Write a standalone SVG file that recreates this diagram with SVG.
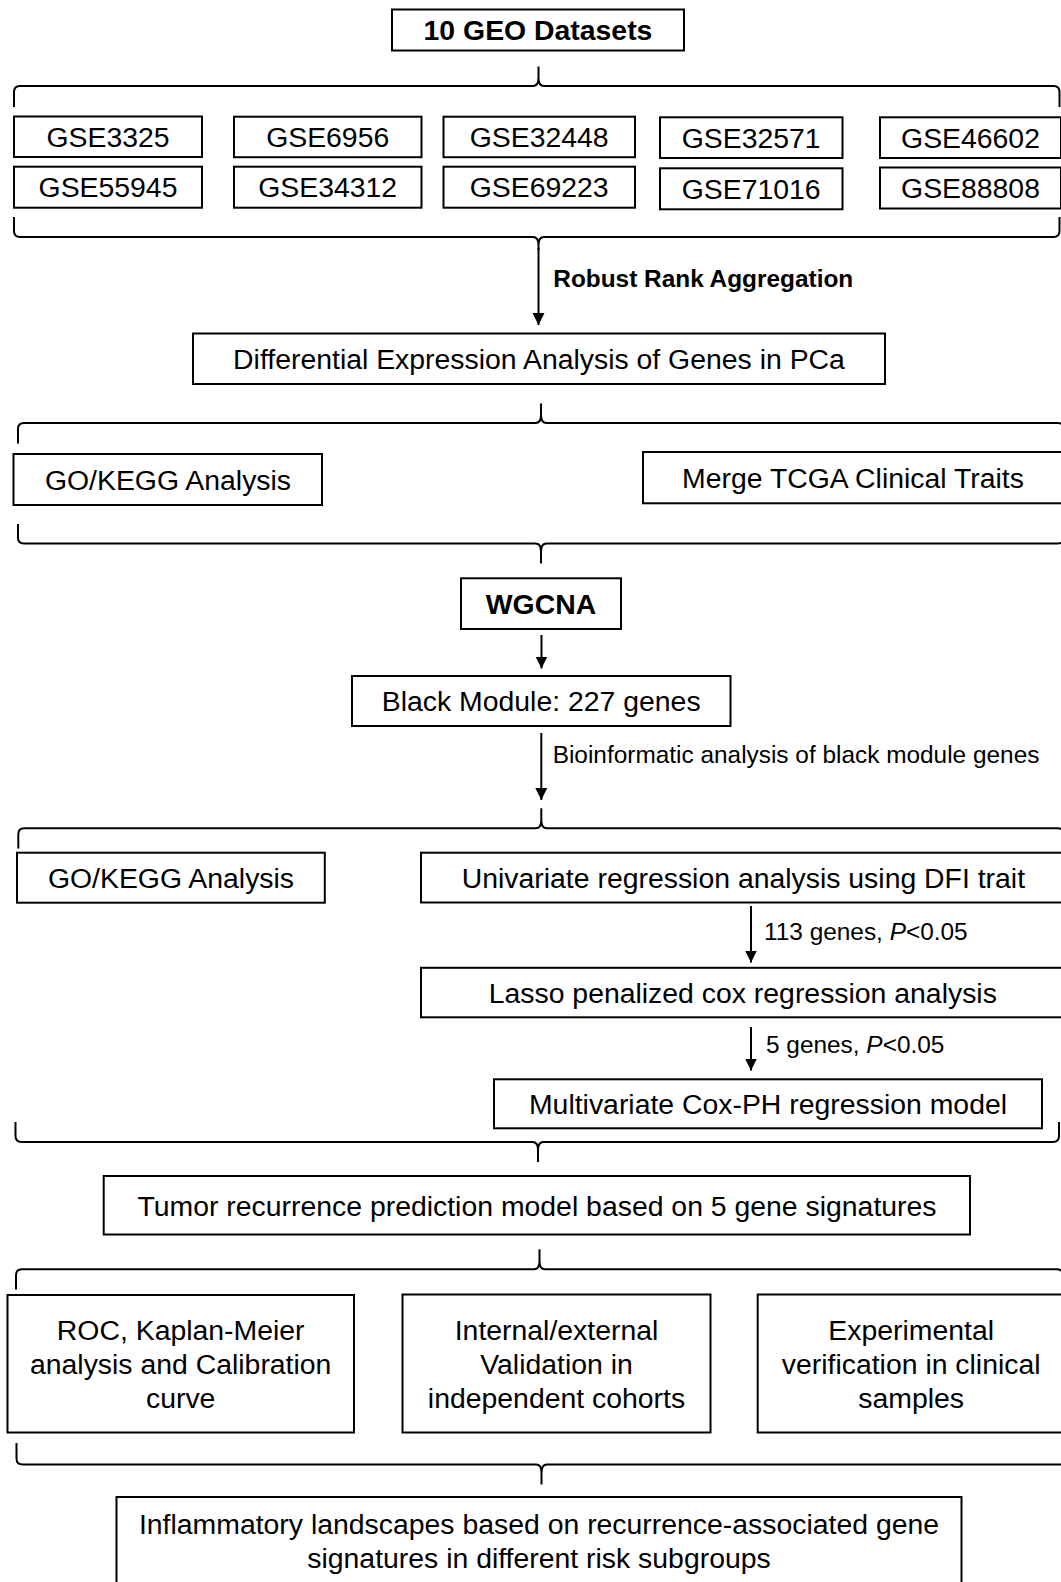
<svg xmlns="http://www.w3.org/2000/svg" width="1061" height="1582" viewBox="0 0 1061 1582">
<style>
  .box { fill: #fff; stroke: #000; stroke-width: 2; }
  .t { font-family: "Liberation Sans", Arial, sans-serif; font-size: 28.4px; fill: #000; text-anchor: middle; }
  .b { font-weight: bold; }
  .lbl { font-family: "Liberation Sans", Arial, sans-serif; font-size: 24.4px; fill: #000; }
  .brace { fill: none; stroke: #000; stroke-width: 2; }
  .arrow { fill: none; stroke: #000; stroke-width: 2; marker-end: url(#ah); }
</style>
<defs>
  <marker id="ah" markerUnits="userSpaceOnUse" markerWidth="14" markerHeight="14" refX="12" refY="6" orient="auto">
    <path d="M0,0 L12,6 L0,12 Z" fill="#000"/>
  </marker>
</defs>
<rect width="1061" height="1582" fill="#fff"/>

<g id="connectors">
  <path class="brace" d="M14,107 V92 Q14,86 20,86 H533 Q538.5,86 538.5,78 V66.5 M538.5,78 Q538.5,86 544,86 H1053.5 Q1059.5,86 1059.5,92 V107"/>
  <path class="brace" d="M14,217 V231 Q14,237 20,237 H533 Q538.5,237 538.5,245 V250 M538.5,245 Q538.5,237 544,237 H1053.5 Q1059.5,237 1059.5,231 V217"/>
  <path class="arrow" d="M538.5,248 V325"/>
  <path class="brace" d="M18,443.5 V429 Q18,423 24,423 H535.5 Q541,423 541,415 V403.5 M541,415 Q541,423 546.5,423 H1058 Q1064,423 1064,429 V443.5"/>
  <path class="brace" d="M18,524 V537.5 Q18,543.5 24,543.5 H535.5 Q541,543.5 541,551.5 V563.5 M541,551.5 Q541,543.5 546.5,543.5 H1058 Q1064,543.5 1064,537.5 V524"/>
  <path class="arrow" d="M541.5,635 V668.5"/>
  <path class="arrow" d="M541.3,733 V800"/>
  <path class="brace" d="M18.3,848.5 V834.3 Q18.3,828.3 24.3,828.3 H535.8 Q541.3,828.3 541.3,820.3 V808.3 M541.3,820.3 Q541.3,828.3 546.8,828.3 H1058 Q1064,828.3 1064,834.3 V848.5"/>
  <path class="arrow" d="M751,906 V962.5"/>
  <path class="arrow" d="M751,1027 V1070.5"/>
  <path class="brace" d="M15.5,1122 V1136 Q15.5,1142 21.5,1142 H532.5 Q538,1142 538,1150 V1162 M538,1150 Q538,1142 543.5,1142 H1053 Q1059,1142 1059,1136 V1122"/>
  <path class="brace" d="M16,1289.5 V1275.3 Q16,1269.3 22,1269.3 H534 Q539.5,1269.3 539.5,1261.3 V1249.3 M539.5,1261.3 Q539.5,1269.3 545,1269.3 H1057 Q1063,1269.3 1063,1275.3 V1289.5"/>
  <path class="brace" d="M16.5,1443 V1458.5 Q16.5,1464.5 22.5,1464.5 H536 Q541.5,1464.5 541.5,1472.5 V1484.5 M541.5,1472.5 Q541.5,1464.5 547,1464.5 H1060 Q1066,1464.5 1066,1458.5 V1443"/>
</g>

<g id="n-geo">
  <rect class="box" x="392" y="9.5" width="292" height="41"/>
  <text class="t b" x="538" y="39.8">10 GEO Datasets</text>
</g>

<g id="n-gse3325"><rect class="box" x="14" y="116.5" width="188" height="40.5"/><text class="t" x="108" y="146.8">GSE3325</text></g>
<g id="n-gse6956"><rect class="box" x="234" y="116.7" width="187.5" height="40.5"/><text class="t" x="327.7" y="146.9">GSE6956</text></g>
<g id="n-gse32448"><rect class="box" x="443.5" y="116.7" width="191.5" height="40.5"/><text class="t" x="539.2" y="146.9">GSE32448</text></g>
<g id="n-gse32571"><rect class="box" x="660" y="117.3" width="182.5" height="40.7"/><text class="t" x="751.2" y="147.6">GSE32571</text></g>
<g id="n-gse46602"><rect class="box" x="880" y="117.3" width="181" height="40.7"/><text class="t" x="970.5" y="147.6">GSE46602</text></g>
<g id="n-gse55945"><rect class="box" x="14" y="166.7" width="188" height="41"/><text class="t" x="108" y="197.2">GSE55945</text></g>
<g id="n-gse34312"><rect class="box" x="234" y="166.7" width="187.5" height="41"/><text class="t" x="327.7" y="197.2">GSE34312</text></g>
<g id="n-gse69223"><rect class="box" x="443.5" y="166.7" width="191.5" height="41"/><text class="t" x="539.2" y="197.2">GSE69223</text></g>
<g id="n-gse71016"><rect class="box" x="660" y="168.3" width="182.5" height="41"/><text class="t" x="751.2" y="198.8">GSE71016</text></g>
<g id="n-gse88808"><rect class="box" x="880" y="167.5" width="181" height="41"/><text class="t" x="970.5" y="198">GSE88808</text></g>

<g id="l-rra"><text class="lbl b" x="553.3" y="287.3">Robust Rank Aggregation</text></g>

<g id="n-dea">
  <rect class="box" x="193" y="333.5" width="692" height="50.5"/>
  <text class="t" x="539" y="368.8">Differential Expression Analysis of Genes in PCa</text>
</g>

<g id="n-gokegg1">
  <rect class="box" x="13.5" y="454" width="308.5" height="51"/>
  <text class="t" x="168" y="489.8">GO/KEGG Analysis</text>
</g>

<g id="n-tcga">
  <rect class="box" x="643" y="452" width="420" height="51.3"/>
  <text class="t" x="853" y="487.8">Merge TCGA Clinical Traits</text>
</g>

<g id="n-wgcna">
  <rect class="box" x="461" y="578.3" width="160" height="50.7"/>
  <text class="t b" x="541" y="613.8">WGCNA</text>
</g>

<g id="n-black">
  <rect class="box" x="352" y="676" width="378.5" height="50"/>
  <text class="t" x="541.2" y="711.2">Black Module: 227 genes</text>
</g>

<g id="l-bio"><text class="lbl" x="552.7" y="763">Bioinformatic analysis of black module genes</text></g>

<g id="n-gokegg2">
  <rect class="box" x="17" y="852.7" width="307.8" height="50"/>
  <text class="t" x="171" y="887.8">GO/KEGG Analysis</text>
</g>

<g id="n-univariate">
  <rect class="box" x="421" y="852.7" width="645" height="49.8"/>
  <text class="t" x="743.4" y="887.8">Univariate regression analysis using DFI trait</text>
</g>

<g id="l-113"><text class="lbl" x="764" y="940">113 genes, <tspan font-style="italic">P</tspan>&lt;0.05</text></g>

<g id="n-lasso">
  <rect class="box" x="421" y="967.8" width="645" height="49.5"/>
  <text class="t" x="742.8" y="1002.8">Lasso penalized cox regression analysis</text>
</g>

<g id="l-5"><text class="lbl" x="766" y="1053.3">5 genes, <tspan font-style="italic">P</tspan>&lt;0.05</text></g>

<g id="n-multi">
  <rect class="box" x="494" y="1079.3" width="548" height="49"/>
  <text class="t" x="768" y="1114">Multivariate Cox-PH regression model</text>
</g>

<g id="n-tumor">
  <rect class="box" x="103.7" y="1176" width="866.3" height="58.5"/>
  <text class="t" x="537" y="1215.5">Tumor recurrence prediction model based on 5 gene signatures</text>
</g>

<g id="n-roc">
  <rect class="box" x="7.5" y="1295" width="346.5" height="137.5"/>
  <text class="t" x="180.7" y="1340">ROC, Kaplan-Meier</text>
  <text class="t" x="180.7" y="1374">analysis and Calibration</text>
  <text class="t" x="180.7" y="1408">curve</text>
</g>

<g id="n-internal">
  <rect class="box" x="402.5" y="1294.5" width="308" height="138"/>
  <text class="t" x="556.5" y="1340">Internal/external</text>
  <text class="t" x="556.5" y="1374">Validation in</text>
  <text class="t" x="556.5" y="1408">independent cohorts</text>
</g>

<g id="n-experimental">
  <rect class="box" x="757.7" y="1294.5" width="307" height="138"/>
  <text class="t" x="911.2" y="1340">Experimental</text>
  <text class="t" x="911.2" y="1374">verification in clinical</text>
  <text class="t" x="911.2" y="1408">samples</text>
</g>

<g id="n-inflammatory">
  <rect class="box" x="116.5" y="1497" width="845" height="110"/>
  <text class="t" x="539" y="1533.5">Inflammatory landscapes based on recurrence-associated gene</text>
  <text class="t" x="539" y="1568">signatures in different risk subgroups</text>
</g>
</svg>
